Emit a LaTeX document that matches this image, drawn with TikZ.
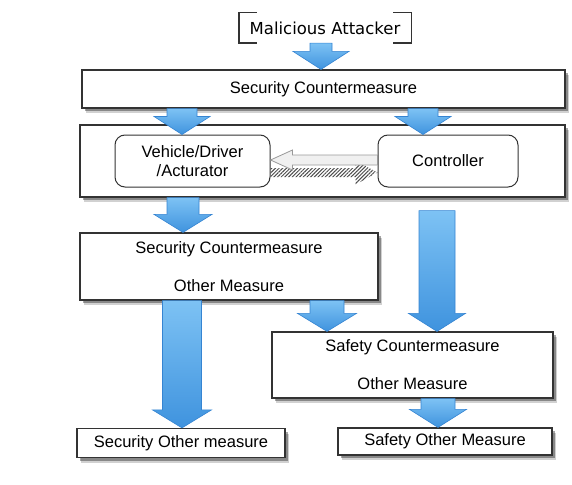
\documentclass[tikz,border=0pt]{standalone}
\usepackage{fontspec}
\setmainfont{Liberation Sans}
\newfontfamily\attfont{DejaVu Sans}
\usetikzlibrary{calc,shadows,patterns.meta}
\definecolor{arrowtop}{HTML}{7DC2F4}
\definecolor{arrowbot}{HTML}{3F93DE}
\definecolor{arrowline}{HTML}{3584D2}
\definecolor{boxline}{HTML}{333333}

% fleche bleue : depart, arrivee, x, demi-largeur du corps, demi-largeur de la pointe
\newcommand{\blockarrow}[5]{%
  \draw[bluearrow] let \p1=(#1), \p2=(#2), \p3=(#3,0) in
    (\x3-#4pt,\y1) -- (\x3+#4pt,\y1) -- (\x3+#4pt,\y2+18pt) -- (\x3+#5pt,\y2+18pt)
    -- (\x3,\y2) -- (\x3-#5pt,\y2+18pt) -- (\x3-#4pt,\y2+18pt) -- cycle;}

\begin{document}
\begin{tikzpicture}[x=1pt, y=-1pt,
    font=\fontsize{16.5}{19}\selectfont,
    box/.style={draw=boxline, line width=1.2pt, fill=white, inner sep=0pt, align=center,
      preaction={fill=black, opacity=0.18, transform canvas={shift={(4pt,-5pt)}}},
      preaction={fill=black, opacity=0.35, transform canvas={shift={(2.5pt,-3pt)}}}},
    roundbox/.style={draw=boxline, line width=1pt, fill=white, rounded corners=10pt,
      inner sep=0pt, align=center},
    bluearrow/.style={top color=arrowtop, bottom color=arrowbot, draw=arrowline, line width=0.6pt},
    bracket/.style={draw=boxline, line width=1.4pt}]
  \useasboundingbox (0,0) rectangle (572,484);

  % Attaquant
  \node[minimum width=172pt, minimum height=30pt, font=\attfont\fontsize{16.5}{19}\selectfont]
    (attacker) at (325,28) {Malicious Attacker};
  \draw[bracket] ([xshift=18pt]attacker.north west) -| (attacker.south west) -- ++(18,0);
  \draw[bracket] ([xshift=-18pt]attacker.north east) -| (attacker.south east) -- ++(-18,0);

  % Boites
  \node[box, minimum width=483pt, minimum height=38pt] (sc) at (323.5,89) {Security Countermeasure};
  \node[box, minimum width=485pt, minimum height=72pt] (system) at (322.5,161) {};
  \node[roundbox, minimum width=155pt, minimum height=52pt] (vehicle) at (192.5,161) {Vehicle/Driver\\/Acturator};
  \node[roundbox, minimum width=140pt, minimum height=52pt] (controller) at (448,161) {Controller};
  \node[box, minimum width=298pt, minimum height=67pt] (scom) at (229,266.5)
    {Security Countermeasure\\[19pt]Other Measure};
  \node[box, minimum width=281pt, minimum height=66pt] (safety) at (412.5,365)
    {Safety Countermeasure\\[19pt]Other Measure};
  \node[box, minimum width=208pt, minimum height=29pt] (secother) at (181,443) {Security Other measure};
  \node[box, minimum width=214pt, minimum height=27pt] (safeother) at (445,441.5) {Safety Other Measure};

  % Fleches bleues
  \blockarrow{attacker.south}{sc.north}{321}{11}{28}
  \blockarrow{sc.south}{vehicle.north}{182}{15}{28}
  \blockarrow{sc.south}{controller.north}{423}{15}{28}
  \blockarrow{system.south}{scom.north}{183}{16}{29}
  \blockarrow{[yshift=-13pt]system.south}{safety.north}{437}{18}{28.5}
  \blockarrow{scom.south}{safety.north}{327}{17}{29.5}
  \blockarrow{scom.south}{secother.north}{182}{19.5}{29.5}
  \blockarrow{safety.south}{safeother.north}{438}{17}{28.5}

  % Fleches entre vehicule et controleur
  \fill[pattern={Lines[angle=45, distance=2.6pt, line width=1pt]}, pattern color=black!70]
    let \p1=(vehicle.east), \p2=(controller.west) in
    (\x1,\y1-7pt) -- (\x2-22pt,\y1-7pt) -- (\x2-22pt,\y1+0.5pt) -- (\x2,\y1-11.5pt)
    -- (\x2-22pt,\y1-23.5pt) -- (\x2-22pt,\y1-16pt) -- (\x1,\y1-16pt) -- cycle;
  \draw[fill=gray!12, draw=gray!80, line width=0.8pt]
    let \p1=(vehicle.east), \p2=(controller.west) in
    (\x1,\y1+1pt) -- (\x1+22pt,\y1+11pt) -- (\x1+22pt,\y1+6pt) -- (\x2,\y1+6pt)
    -- (\x2,\y1-4pt) -- (\x1+22pt,\y1-4pt) -- (\x1+22pt,\y1-9pt) -- cycle;
\end{tikzpicture}
\end{document}
